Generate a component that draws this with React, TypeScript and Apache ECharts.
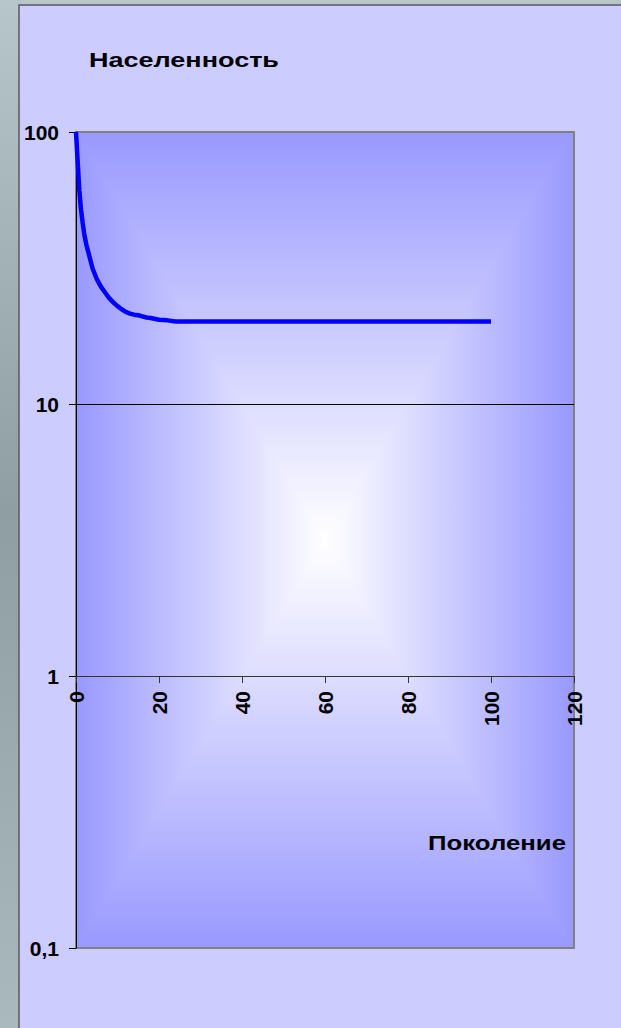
import React, { useEffect, useRef } from "react";
import * as echarts from "echarts";

// ---- data ----
const generation = [0, 0.4, 0.8, 1.2, 1.6, 2, 2.5, 3, 4, 5, 6, 7, 8, 9, 10, 11, 12, 13, 14, 15, 16, 17, 18, 20, 22, 24, 100];
const population = [100, 78, 61, 52, 46.5, 42, 38.5, 36, 31.5, 28.8, 27, 25.7, 24.5, 23.6, 22.9, 22.3, 21.8, 21.5, 21.3, 21.2, 21.0, 20.8, 20.7, 20.4, 20.3, 20.1, 20.1];
const xMin = 0;
const xMax = 120;
const xStep = 20;
const yMin = 0.1;
const yMax = 100;
const titleText = "Населенность";
const xAxisName = "Поколение";

const FONT = "'Liberation Sans', Arial, sans-serif";

function measure(text: string, font: string): number {
  const c = document.createElement("canvas");
  const ctx = c.getContext("2d");
  if (!ctx) return 100;
  ctx.font = font;
  return ctx.measureText(text).width;
}

export default function App() {
  const ref = useRef<HTMLDivElement>(null);

  useEffect(() => {
    if (!ref.current) return;
    const chart = echarts.init(ref.current, undefined, { renderer: "svg" });

    const gL = 76, gT = 132, gW = 498, gH = 816;
    const cx = gL + gW / 2, cy = gT + gH / 2;
    const edge = "#9999FF";
    const mid = "#FFFFFF";

    const titleFont = `bold 21px ${FONT}`;
    const nameFont = `bold 21px ${FONT}`;
    const titleScale = 190 / measure(titleText, titleFont);
    const nameScale = 138 / measure(xAxisName, nameFont);

    const data = generation.map((g, i) => [g, population[i]]);

    const fmtY = (v: number) =>
      v < 1 ? String(Math.round(v * 10) / 10).replace(".", ",") : String(Math.round(v));

    chart.setOption({
      animation: false,
      backgroundColor: new echarts.graphic.LinearGradient(0, 0, 0, 1, [
        { offset: 0, color: "#B6C6CA" },
        { offset: 0.5, color: "#8E9EA3" },
        { offset: 1, color: "#A9B9BD" },
      ]),
      grid: { left: gL, top: gT, width: gW, height: gH, containLabel: false },
      xAxis: {
        type: "value",
        min: xMin,
        max: xMax,
        interval: xStep,
        position: "bottom",
        offset: -272,
        axisLine: { show: true, onZero: false, lineStyle: { color: "#333", width: 1 } },
        axisTick: { show: true, inside: false, length: 7, lineStyle: { color: "#333" } },
        axisLabel: {
          rotate: 90,
          margin: 15,
          fontSize: 21,
          fontWeight: "bold",
          fontFamily: FONT,
          color: "#000",
        },
        splitLine: { show: false },
      },
      yAxis: {
        type: "log",
        logBase: 10,
        min: yMin,
        max: yMax,
        axisLine: { show: true, lineStyle: { color: "#000", width: 1 } },
        axisTick: { show: true, inside: false, length: 7, lineStyle: { color: "#000" } },
        axisLabel: {
          margin: 17,
          fontSize: 21,
          fontWeight: "bold",
          fontFamily: FONT,
          color: "#000",
          formatter: fmtY,
        },
        splitLine: {
          show: true,
          lineStyle: { color: ["#808080", "#000000", "#000000", "#808080"], width: 1 },
        },
      },
      graphic: [
        {
          type: "rect",
          z: -20,
          shape: { x: 19, y: 5, width: 610, height: 1030 },
          style: { fill: "#CCCCFF", stroke: "#5A5A5A", lineWidth: 1.5 },
        },
        {
          type: "rect",
          z: -12,
          shape: { x: gL, y: gT, width: gW, height: gH },
          style: {
            fill: new echarts.graphic.LinearGradient(0, 0, 1, 0, [
              { offset: 0, color: edge },
              { offset: 0.5, color: mid },
              { offset: 1, color: edge },
            ]),
          },
        },
        {
          type: "polygon",
          z: -10,
          shape: { points: [[gL, gT], [gL + gW, gT], [cx, cy]] },
          style: { fill: new echarts.graphic.LinearGradient(0, 0, 0, 1, [{ offset: 0, color: edge }, { offset: 1, color: mid }]) },
        },
        {
          type: "polygon",
          z: -10,
          shape: { points: [[gL, gT + gH], [gL + gW, gT + gH], [cx, cy]] },
          style: { fill: new echarts.graphic.LinearGradient(0, 0, 0, 1, [{ offset: 0, color: mid }, { offset: 1, color: edge }]) },
        },
        {
          type: "rect",
          z: -5,
          shape: { x: gL, y: gT, width: gW, height: gH },
          style: { fill: "none", stroke: "#808080", lineWidth: 2 },
        },
        {
          type: "text",
          z: 10,
          x: 89,
          y: 60,
          scaleX: titleScale,
          style: {
            text: titleText,
            font: titleFont,
            fill: "#000",
            align: "left",
            verticalAlign: "middle",
          },
        },
        {
          type: "text",
          z: 10,
          x: 428,
          y: 843,
          scaleX: nameScale,
          style: {
            text: xAxisName,
            font: nameFont,
            fill: "#000",
            align: "left",
            verticalAlign: "middle",
          },
        },
      ],
      series: [
        {
          type: "line",
          data,
          showSymbol: false,
          symbol: "none",
          lineStyle: { color: "#0000FF", width: 4.5 },
          z: 5,
        },
      ],
    });

    return () => chart.dispose();
  }, []);

  return (
    <div
      ref={ref}
      style={{ position: "absolute", left: 0, top: 0, width: 621, height: 1028 }}
    />
  );
}
